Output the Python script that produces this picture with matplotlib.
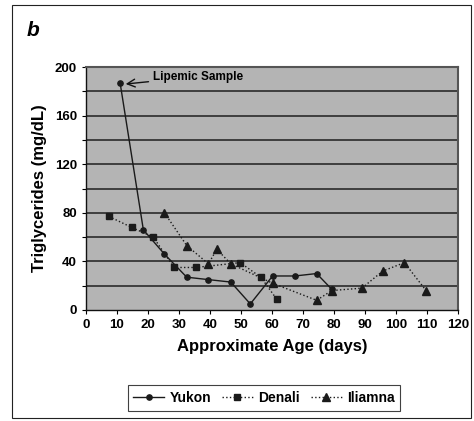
import matplotlib
matplotlib.use("Agg")
import matplotlib.pyplot as plt
from matplotlib.patches import Rectangle

plt.rcParams['font.family'] = ['Liberation Sans', 'DejaVu Sans']

yukon_x = [11, 18.5, 25.3, 32.5, 39.5, 46.7, 53, 60.2, 67.4, 74.4, 79.3]
yukon_y = [187, 66, 46, 27, 25, 23, 5, 28, 28, 30, 17]

denali_x = [7.4, 14.7, 21.7, 28.4, 35.4, 49.7, 56.4, 61.5]
denali_y = [77, 68, 60, 35, 35, 39, 27, 9]

iliamna_x = [25.3, 32.5, 39.5, 42.2, 46.7, 60.2, 74.4, 79.3, 89, 95.7, 102.7, 109.7]
iliamna_y = [80, 53, 38, 50, 38, 22, 8, 16, 18, 32, 39, 16]

x_ticks = list(range(0, 121, 10))
y_ticks = list(range(0, 201, 40))
grid_y = list(range(20, 201, 20))

fig = plt.figure(figsize=(4.74, 4.21), dpi=100)
fig.patches.append(Rectangle((12/474, 1-418/421), 459/474, 413/421,
                             transform=fig.transFigure, fill=False,
                             edgecolor='#222222', linewidth=0.8))
ax = fig.add_axes([86/474, 1-310/421, 372/474, 243/421])
ax.set_facecolor('#b4b4b4')
ax.set_xlim(0, 120)
ax.set_ylim(0, 200)
for g in grid_y:
    ax.axhline(g, color='#2a2a2a', linewidth=1.2, zorder=1)

ax.plot(yukon_x, yukon_y, '-', color='#1a1a1a', linewidth=1.0,
        marker='o', markersize=3.8, label='Yukon', zorder=3)
ax.plot(denali_x, denali_y, ':', color='#1a1a1a', linewidth=1.0,
        marker='s', markersize=4.5, label='Denali', zorder=3)
ax.plot(iliamna_x, iliamna_y, ':', color='#1a1a1a', linewidth=1.0,
        marker='^', markersize=6, label='Iliamna', zorder=3)

ax.annotate('Lipemic Sample', xy=(12.8, 186), xytext=(21.5, 192),
            fontsize=8.5, fontweight='bold', va='center', ha='left',
            arrowprops=dict(arrowstyle='->', color='#111111', lw=1.0,
                            mutation_scale=14, shrinkA=1, shrinkB=0))

ax.set_xticks(x_ticks)
ax.set_yticks(y_ticks)
ax.set_yticks(list(range(0, 201, 20)), minor=True)
ax.tick_params(axis='both', labelsize=9.5, length=3, width=0.8, direction='out')
ax.tick_params(axis='y', which='minor', length=3, width=0.8)
for lab in ax.get_xticklabels() + ax.get_yticklabels():
    lab.set_fontweight('bold')
ax.set_xlabel('Approximate Age (days)', fontsize=12, fontweight='bold', labelpad=6)
ax.set_ylabel('Triglycerides (mg/dL)', fontsize=12, fontweight='bold', labelpad=6)

for s in ['left', 'bottom']:
    ax.spines[s].set_color('#111111')
    ax.spines[s].set_linewidth(1.0)
for s in ['top', 'right']:
    ax.spines[s].set_color('#555555')
    ax.spines[s].set_linewidth(1.5)

fig.text(27/474, 1-30/421, 'b', fontsize=15, fontweight='bold', style='italic',
         ha='left', va='center')

leg = fig.legend(loc='center', bbox_to_anchor=(264/474, 1-398/421), ncol=3,
                 fontsize=10, frameon=True, fancybox=False, handlelength=2.2,
                 handletextpad=0.4, columnspacing=0.8, borderpad=0.4)
leg.get_frame().set_edgecolor('#111111')
leg.get_frame().set_linewidth(0.8)
for t in leg.get_texts():
    t.set_fontweight('bold')

fig.savefig('out.png', dpi=100)
